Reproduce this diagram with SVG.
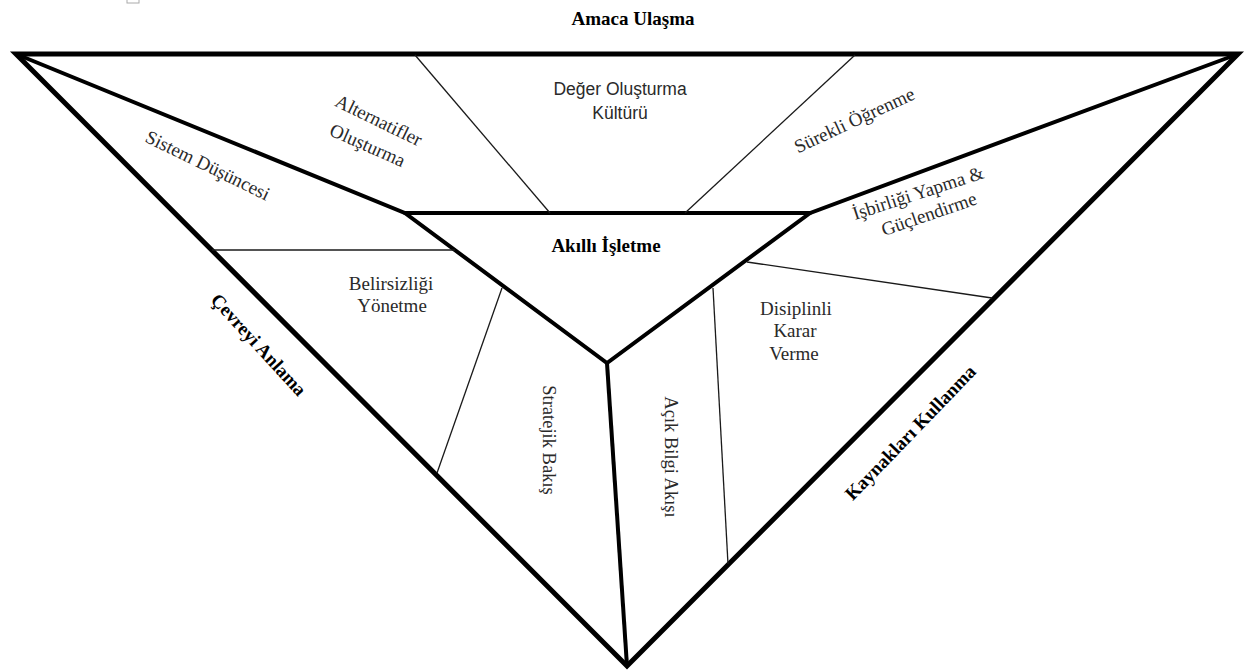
<svg xmlns="http://www.w3.org/2000/svg" width="1248" height="672" viewBox="0 0 1248 672">
<style>
.thick{fill:none;stroke:#000;stroke-width:5;stroke-linejoin:miter;stroke-miterlimit:20}
.mid{fill:none;stroke:#000;stroke-width:4;stroke-linejoin:miter;stroke-miterlimit:10}
.thin{fill:none;stroke:#1a1a1a;stroke-width:1.3}
.t{font-family:"Liberation Serif","Times New Roman",serif;font-size:19px;fill:#2a2a2a;text-anchor:middle}
.b{font-family:"Liberation Serif","Times New Roman",serif;font-size:19px;font-weight:bold;fill:#000;text-anchor:middle}
.s{font-family:"Liberation Sans",Arial,sans-serif;font-size:17.5px;fill:#2a2a2a;text-anchor:middle}
</style>
<rect width="1248" height="672" fill="#fff"/>
<rect x="127" y="-8" width="12" height="11" fill="none" stroke="#aaa" stroke-width="1"/>
<g id="connectors">
  <polygon class="thick" points="16,54 1238,54 627,666"/>
  <polyline class="mid" points="16,54 405,213 810,213 1238,54"/>
  <polygon class="mid" points="405,213 810,213 607,363"/>
  <line class="mid" x1="607" y1="363" x2="627" y2="666"/>
  <line class="thin" x1="415" y1="55" x2="550" y2="213"/>
  <line class="thin" x1="855" y1="55" x2="685" y2="213"/>
  <line class="thin" x1="212" y1="250" x2="455" y2="250"/>
  <line class="thin" x1="502" y1="288" x2="437" y2="473"/>
  <line class="thin" x1="747" y1="262" x2="992" y2="298"/>
  <line class="thin" x1="713" y1="288" x2="728" y2="564"/>
</g>
<g id="amaca-ulasma"><text class="b" x="633" y="25">Amaca Ulaşma</text></g>
<g id="deger-olusturma"><text class="s" x="620" y="95">Değer Oluşturma</text><text class="s" x="620" y="119">Kültürü</text></g>
<g id="sistem-dusuncesi"><text class="t" transform="translate(205,171) rotate(26)">Sistem Düşüncesi</text></g>
<g id="alternatifler"><text class="t" transform="translate(376,126) rotate(26)">Alternatifler</text><text class="t" transform="translate(365,151) rotate(24)">Oluşturma</text></g>
<g id="surekli-ogrenme"><text class="t" transform="translate(857,126) rotate(-25)">Sürekli Öğrenme</text></g>
<g id="isbirligi"><text class="t" transform="translate(920,199) rotate(-18)">İşbirliği Yapma &amp;</text><text class="t" transform="translate(931,220) rotate(-19)">Güçlendirme</text></g>
<g id="akilli-isletme"><text class="b" x="606" y="252">Akıllı İşletme</text></g>
<g id="belirsizligi"><text class="t" x="391" y="290">Belirsizliği</text><text class="t" x="392" y="312">Yönetme</text></g>
<g id="disiplinli"><text class="t" x="796" y="315">Disiplinli</text><text class="t" x="795" y="337">Karar</text><text class="t" x="794" y="360">Verme</text></g>
<g id="stratejik-bakis"><text class="t" style="font-size:18.5px" transform="translate(543,440) rotate(90)">Stratejik Bakış</text></g>
<g id="acik-bilgi"><text class="t" style="font-size:18.5px" transform="translate(665,457) rotate(90)">Açık Bilgi Akışı</text></g>
<g id="cevreyi-anlama"><text class="b" transform="translate(254,349) rotate(47.5)">Çevreyi Anlama</text></g>
<g id="kaynaklari-kullanma"><text class="b" transform="translate(915,437) rotate(-46)">Kaynakları Kullanma</text></g>
</svg>
